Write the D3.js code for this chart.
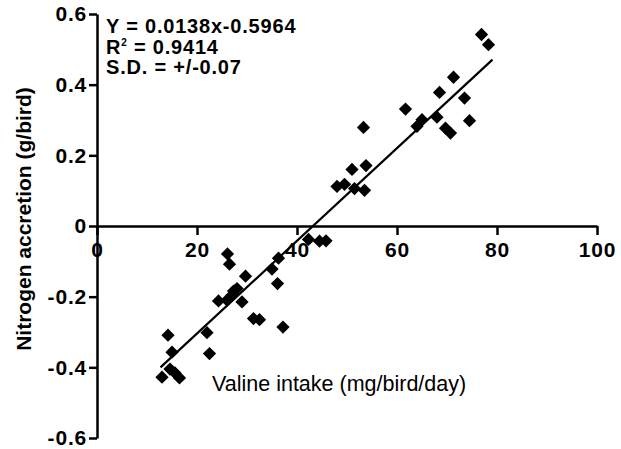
<!DOCTYPE html>
<html>
<head>
<meta charset="utf-8">
<script src="https://cdn.jsdelivr.net/npm/d3@7"></script>
<style>
  html, body { margin: 0; padding: 0; background: #fff; }
  svg { display: block; }
  text { font-family: "Liberation Sans", Arial, sans-serif; fill: #000; }
</style>
</head>
<body>
<svg id="chart" width="621" height="449"></svg>
<script>
// ---- data ----
const valineIntake = [
  13.0, 14.2, 14.6, 15.0, 15.6, 16.5, 22.0, 22.5,
  24.3, 26.0, 26.1, 26.5, 27.0, 27.3, 28.0, 29.0, 29.7,
  31.3, 32.5, 35.0, 36.1, 36.3, 37.2,
  42.3, 44.5, 45.8,
  48.0, 49.5, 51.0, 51.5, 53.3, 53.5, 53.8,
  61.7, 64.0, 65.0, 68.0, 68.5, 69.7, 70.7, 71.3, 73.5, 74.5, 76.9, 78.3
];
const nitrogenAccretion = [
  -0.428, -0.309, -0.405, -0.357, -0.416, -0.430, -0.302, -0.361,
  -0.212, -0.210, -0.079, -0.108, -0.196, -0.184, -0.177, -0.215, -0.142,
  -0.262, -0.265, -0.122, -0.163, -0.091, -0.286,
  -0.038, -0.043, -0.042,
  0.112, 0.118, 0.160, 0.106, 0.279, 0.101, 0.171,
  0.331, 0.282, 0.301, 0.308, 0.378, 0.277, 0.263, 0.421, 0.362, 0.298, 0.542, 0.513
];
const fitLineX = [12.7, 79.1];
const fitLineY = [-0.400, 0.471];
const xTicks = [0, 20, 40, 60, 80, 100];
const yTicks = [-0.6, -0.4, -0.2, 0, 0.2, 0.4, 0.6];
const xTitle = "Valine intake (mg/bird/day)";
const yTitle = "Nitrogen accretion (g/bird)";
const equationLines = ["Y = 0.0138x-0.5964", "R", "S.D. = +/-0.07"];

// ---- chart ----
const svg = d3.select("#chart");
const x = d3.scaleLinear().domain([0, 100]).range([97, 597]);
const y = d3.scaleLinear().domain([-0.6, 0.6]).range([438, 14]);

const fmt = d => (d === 0 ? "0" : d.toFixed(1));

const xAxis = svg.append("g")
  .attr("transform", `translate(0,${y(0)})`)
  .call(d3.axisBottom(x).tickValues(xTicks).tickFormat(d3.format("d"))
        .tickSize(9).tickSizeOuter(0).tickPadding(7));
const yAxis = svg.append("g")
  .attr("transform", `translate(${x(0)},0)`)
  .call(d3.axisLeft(y).tickValues(yTicks).tickFormat(fmt)
        .tickSize(8).tickSizeOuter(0).tickPadding(2));

[xAxis, yAxis].forEach(g => {
  g.select(".domain").attr("stroke", "#000").attr("stroke-width", 2.5);
  g.selectAll(".tick line").attr("stroke", "#000").attr("stroke-width", 2.5);
  g.selectAll(".tick text")
    .attr("fill", "#000")
    .style("font-size", "21px")
    .style("letter-spacing", "0.8px")
    .style("font-weight", "bold")
    .style("font-family", '"Liberation Sans", Arial, sans-serif');
});

// fit line
svg.append("line")
  .attr("x1", x(fitLineX[0])).attr("y1", y(fitLineY[0]))
  .attr("x2", x(fitLineX[1])).attr("y2", y(fitLineY[1]))
  .attr("stroke", "#000").attr("stroke-width", 2.2);

// points (diamonds)
const pts = valineIntake.map((v, i) => [v, nitrogenAccretion[i]]);
const sym = d3.symbol().type(d3.symbolSquare).size(88);
svg.append("g").selectAll("path").data(pts).join("path")
  .attr("d", sym)
  .attr("transform", d => `translate(${x(d[0])},${y(d[1])}) rotate(45)`)
  .attr("fill", "#000");

// equation text
const eq = svg.append("g").style("font-size", "20px").style("font-weight", "bold")
  .style("letter-spacing", "0.8px");
eq.append("text").attr("x", 106).attr("y", 33).text(equationLines[0]);
const r2 = eq.append("text").attr("x", 106).attr("y", 53.5);
r2.append("tspan").text(equationLines[1]);
r2.append("tspan").attr("dy", -8).style("font-size", "10px").text("2");
r2.append("tspan").attr("dy", 8).text(" = 0.9414");
eq.append("text").attr("x", 106).attr("y", 74).text(equationLines[2]);

// axis titles
svg.append("text")
  .attr("x", 212).attr("y", 391)
  .style("font-size", "21.5px")
  .text(xTitle);
svg.append("text")
  .attr("transform", `translate(31,219) rotate(-90)`)
  .attr("text-anchor", "middle")
  .style("font-size", "21px")
  .style("font-weight", "bold")
  .text(yTitle);
</script>
</body>
</html>
